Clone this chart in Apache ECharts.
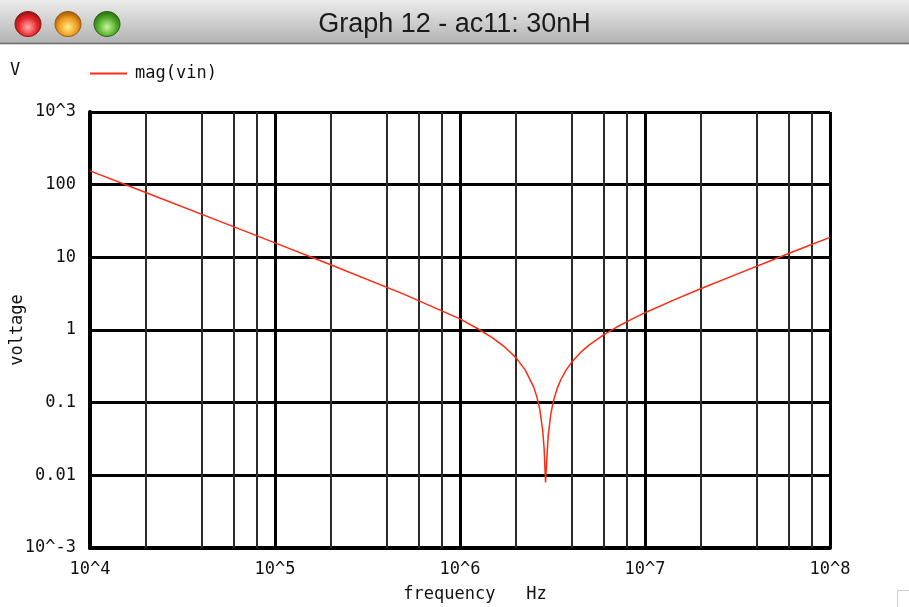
<!DOCTYPE html>
<html>
<head>
<meta charset="utf-8">
<script src="https://cdn.jsdelivr.net/npm/echarts@6/dist/echarts.min.js"></script>
<style>
html,body{margin:0;padding:0;background:#fff;}
#c{width:909px;height:607px;}
</style>
</head>
<body>
<div id="c"></div>
<script>
// frequency (Hz) and magnitude (V)
var freq = [1e4, 2e4, 5e4, 1e5, 2e5, 5e5, 1e6, 1.25e6, 1.5e6, 1.75e6, 2e6, 2.25e6, 2.5e6, 2.6e6, 2.7e6, 2.8e6, 2.85e6, 2.9e6, 2.95e6, 3e6, 3.1e6, 3.2e6, 3.35e6, 3.5e6, 3.75e6, 4e6, 4.5e6, 5e6, 6e6, 7e6, 8.5e6, 1e7, 1.5e7, 2e7, 3e7, 5e7, 7e7, 1e8];
var magVin = [155, 78, 31.5, 15.8, 7.9, 3.09, 1.42, 1.04, 0.78, 0.58, 0.42, 0.283, 0.165, 0.122, 0.081, 0.041, 0.023, 0.008, 0.018, 0.036, 0.071, 0.106, 0.156, 0.205, 0.283, 0.356, 0.495, 0.624, 0.866, 1.09, 1.41, 1.73, 2.72, 3.69, 5.6, 9.39, 13.2, 18.8];
var xDecades = [1e4, 1e5, 1e6, 1e7];
var minorMultiples = [2, 4, 6, 8];
var yTickLabels = {'1000': '10^3', '100': '100', '10': '10', '1': '1', '0.1': '0.1', '0.01': '0.01', '0.001': '10^-3'};
var xTickLabels = {'10000': '10^4', '100000': '10^5', '1000000': '10^6', '10000000': '10^7', '100000000': '10^8'};

var mono = '"DejaVu Sans Mono", "Liberation Mono", monospace';

var minorLines = [];
xDecades.forEach(function (d) {
  minorMultiples.forEach(function (m) { minorLines.push({ xAxis: d * m }); });
});

function lookup(map, v) {
  var k = String(Number(v.toPrecision(6)));
  return map[k] !== undefined ? map[k] : '';
}

function btn(cx, cy, light, mid, dark) {
  return {
    type: 'ellipse',
    shape: { cx: cx, cy: cy, rx: 13, ry: 12.5 },
    style: {
      fill: new echarts.graphic.RadialGradient(0.5, 0.62, 0.6, [
        { offset: 0, color: light },
        { offset: 0.6, color: mid },
        { offset: 1, color: dark }
      ]),
      stroke: dark, lineWidth: 1
    },
    z: 100
  };
}

var chart = echarts.init(document.getElementById('c'), null, { renderer: 'canvas' });
chart.setOption({
  animation: false,
  backgroundColor: '#ffffff',
  title: {
    text: 'Graph 12 - ac11: 30nH',
    left: 'center',
    top: 6,
    textStyle: { fontFamily: '"Liberation Sans", "DejaVu Sans", sans-serif', fontSize: 27, fontWeight: 'normal', color: '#1a1a1a' },
    z: 101
  },
  legend: {
    data: ['mag(vin)'],
    left: 85,
    top: 60,
    icon: 'rect',
    itemWidth: 37,
    itemHeight: 2,
    textStyle: { fontFamily: mono, fontSize: 17, color: '#111', padding: [0, 0, 0, 3] }
  },
  graphic: [
    {
      type: 'rect', shape: { x: 0, y: 0, width: 909, height: 43 },
      style: { fill: new echarts.graphic.LinearGradient(0, 0, 0, 1, [
        { offset: 0, color: '#ececec' }, { offset: 1, color: '#b3b3b3' }]) },
      z: 99
    },
    { type: 'line', shape: { x1: 0, y1: 43.5, x2: 909, y2: 43.5 }, style: { stroke: '#6a6a6a', lineWidth: 1.5 }, z: 99 },
    btn(28, 24, '#ffb0b0', '#e8262b', '#8e1416'),
    btn(68, 24, '#fff08a', '#ee9a1c', '#9a5a0a'),
    btn(107, 24, '#c8f5a0', '#52ad2a', '#2c6a12'),
    { type: 'text', left: 10, top: 62, style: { text: 'V', font: '17px ' + mono, fill: '#111' } },
    { type: 'polyline', shape: { points: [[897.5, 607], [897.5, 590.5], [909, 590.5]] }, style: { stroke: '#cfcfcf', lineWidth: 1, fill: null } }
  ],
  grid: { left: 90, right: 79, top: 112, bottom: 59, show: false, containLabel: false, outerBoundsMode: 'none' },
  xAxis: {
    type: 'log', logBase: 10, min: 1e4, max: 1e8, interval: 1,
    name: 'frequency   Hz', nameLocation: 'middle', nameGap: 38, nameMoveOverlap: false,
    nameTextStyle: { fontFamily: mono, fontSize: 17, color: '#111', padding: [0, 0, 0, 30] },
    axisLine: { show: true, lineStyle: { color: '#000', width: 4 } },
    axisTick: { show: false },
    axisLabel: { fontFamily: mono, fontSize: 17, color: '#111', margin: 13, showMinLabel: true, showMaxLabel: true,
      formatter: function (v) { return lookup(xTickLabels, v); } },
    splitLine: { show: true, lineStyle: { color: '#000', width: 3 } },
    minorTick: { show: false }, minorSplitLine: { show: false }
  },
  yAxis: {
    type: 'log', logBase: 10, min: 1e-3, max: 1e3, interval: 1,
    name: 'voltage', nameLocation: 'middle', nameGap: 64, nameMoveOverlap: false,
    nameTextStyle: { fontFamily: mono, fontSize: 17, color: '#111' },
    axisLine: { show: true, lineStyle: { color: '#000', width: 4 } },
    axisTick: { show: false },
    axisLabel: { fontFamily: mono, fontSize: 17, color: '#111', margin: 14, showMinLabel: true, showMaxLabel: true,
      formatter: function (v) { return lookup(yTickLabels, v); } },
    splitLine: { show: true, lineStyle: { color: '#000', width: 3 } }
  },
  series: [
    {
      name: 'minor', type: 'line', data: [], silent: true, z: 1,
      markLine: {
        silent: true, symbol: ['none', 'none'], label: { show: false },
        lineStyle: { color: '#2b2b2b', width: 2, type: 'solid' },
        data: minorLines
      }
    },
    {
      name: 'mag(vin)', type: 'line', z: 5,
      data: freq.map(function (f, i) { return [f, magVin[i]]; }),
      showSymbol: false, symbol: 'none',
      lineStyle: { color: '#ff2a12', width: 1.5 },
      itemStyle: { color: '#ff2a12' }
    }
  ]
});
</script>
</body>
</html>
